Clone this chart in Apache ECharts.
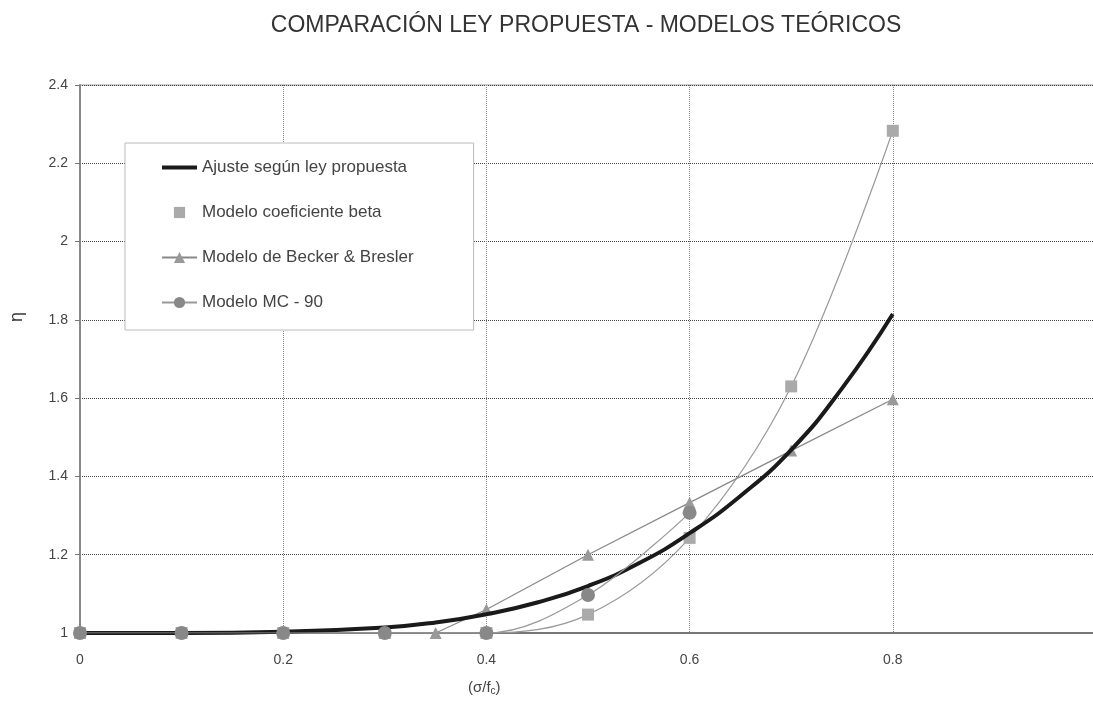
<!DOCTYPE html>
<html lang="es">
  <head>
    <meta charset="UTF-8" />
    <script src="https://cdn.jsdelivr.net/npm/echarts@6.0.0/dist/echarts.min.js"></script>
    <title>Comparación ley propuesta - modelos teóricos</title>
    <style>
      body { margin: 0; background: #fff; }
      #container { width: 1093px; height: 707px; }
    </style>
  </head>
  <body>
    <div id="container"></div>
    <script>
      // valores
      const ajusteX = [0, 0.1, 0.2, 0.3, 0.35, 0.4, 0.45, 0.5, 0.55, 0.6, 0.65, 0.7, 0.75, 0.8];
      const ajusteY = [1.0, 1.0, 1.003, 1.014, 1.027, 1.048, 1.078, 1.12, 1.178, 1.255, 1.35, 1.468, 1.625, 1.815];

      const betaX = [0, 0.1, 0.2, 0.3, 0.4, 0.5, 0.6, 0.7, 0.8];
      const betaY = [1, 1, 1, 1, 1, 1.047, 1.243, 1.63, 2.283];

      const beckerX = [0.35, 0.4, 0.5, 0.6, 0.7, 0.8];
      const beckerY = [1, 1.06, 1.2, 1.333, 1.466, 1.597];

      const mcX = [0, 0.1, 0.2, 0.3, 0.4, 0.5, 0.6];
      const mcY = [1, 1, 1, 1, 1, 1.097, 1.307];

      const seriesNames = [
        "Ajuste según ley propuesta",
        "Modelo coeficiente beta",
        "Modelo de Becker & Bresler",
        "Modelo MC - 90",
      ];

      const pairs = (xs, ys) => xs.map((x, i) => [x, ys[i]]);
      const font = "'Liberation Sans', Arial, sans-serif";

      const chart = echarts.init(document.getElementById("container"), null, { renderer: "canvas" });

      const option = {
        animation: false,
        textStyle: { fontFamily: font },
        title: {
          text: "COMPARACIÓN LEY PROPUESTA - MODELOS TEÓRICOS",
          left: 581,
          textAlign: "center",
          top: 9,
          textStyle: { fontSize: 23, fontWeight: "normal", color: "#333", fontFamily: font },
        },
        grid: {
          left: 80,
          right: -3,
          top: 85,
          bottom: 74,
          outerBoundsMode: "none",
          containLabel: false,
          show: true,
          borderColor: "#999",
          borderWidth: 1,
        },
        legend: {
          orient: "vertical",
          left: 125,
          top: 143,
          padding: [16, 60, 19, 35],
          itemGap: 28,
          itemWidth: 35,
          itemHeight: 14,
          borderColor: "#bbb",
          borderWidth: 1,
          backgroundColor: "#fff",
          textStyle: { fontSize: 17, color: "#444", fontFamily: font },
          data: [
            { name: seriesNames[0], itemStyle: { opacity: 0 }, lineStyle: { width: 4, color: "#1a1a1a" } },
            { name: seriesNames[1], lineStyle: { opacity: 0 } },
            { name: seriesNames[2] },
            { name: seriesNames[3] },
          ],
        },
        xAxis: {
          type: "value",
          min: 0,
          max: 1,
          interval: 0.2,
          axisLine: { show: true, onZero: false, lineStyle: { color: "#777", width: 2 } },
          axisTick: { show: false },
          axisLabel: { color: "#444", fontSize: 14, margin: 20 },
          splitLine: { show: true, lineStyle: { color: "#888", type: "dotted", width: 1 } },
        },
        yAxis: {
          type: "value",
          min: 1,
          max: 2.4,
          interval: 0.2,
          axisLine: { show: true, lineStyle: { color: "#888", width: 2 } },
          axisTick: { show: true, length: 5, lineStyle: { color: "#777" } },
          axisLabel: {
            color: "#444",
            fontSize: 14,
            margin: 12,
            formatter: (v) => String(Math.round(v * 10) / 10),
          },
          splitLine: { show: true, lineStyle: { color: "#444", type: "dotted", width: 1 } },
        },
        graphic: [
          {
            type: "text",
            left: 8,
            top: 312,
            rotation: Math.PI / 2,
            style: { text: "η", fontSize: 18, fill: "#333", fontFamily: font },
          },
          {
            type: "text",
            left: 468,
            top: 680,
            style: {
              text: "(σ/f{s|c})",
              fontSize: 15,
              fill: "#444",
              fontFamily: font,
              rich: { s: { fontSize: 10, padding: [8, 0, 0, 0], fill: "#444" } },
            },
          },
        ],
        series: [
          {
            name: seriesNames[1],
            type: "line",
            smooth: 0.35,
            data: pairs(betaX, betaY),
            symbol: "rect",
            symbolSize: 12,
            itemStyle: { color: "#aaa" },
            lineStyle: { color: "#999", width: 1.2 },
            z: 2,
          },
          {
            name: seriesNames[2],
            type: "line",
            data: pairs(beckerX, beckerY),
            symbol: "triangle",
            symbolSize: 12,
            itemStyle: { color: "#999" },
            lineStyle: { color: "#888", width: 1.2 },
            z: 2,
          },
          {
            name: seriesNames[0],
            type: "line",
            smooth: true,
            data: pairs(ajusteX, ajusteY),
            symbol: "none",
            lineStyle: { color: "#1a1a1a", width: 4 },
            itemStyle: { color: "#1a1a1a" },
            z: 3,
          },
          {
            name: seriesNames[3],
            type: "line",
            smooth: 0.35,
            data: pairs(mcX, mcY),
            symbol: "circle",
            symbolSize: 14,
            itemStyle: { color: "#888" },
            lineStyle: { color: "#999", width: 1.2 },
            z: 4,
          },
        ],
      };

      chart.setOption(option);
    </script>
  </body>
</html>
